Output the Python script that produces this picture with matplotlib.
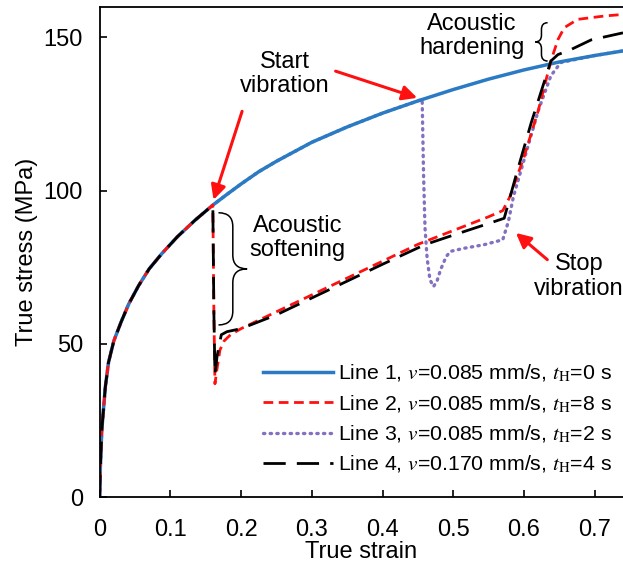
import matplotlib
matplotlib.use('Agg')
import matplotlib.pyplot as plt
from matplotlib.path import Path
from matplotlib.patches import PathPatch

plt.rcParams['font.family'] = ['Liberation Sans', 'DejaVu Sans']
plt.rcParams['mathtext.fontset'] = 'stix'

# Line 1: continuous loading
line1_strain = [0, 0.001, 0.003, 0.0055, 0.008, 0.0125, 0.02, 0.03, 0.041, 0.055, 0.07,
                0.088, 0.11, 0.135, 0.16, 0.18, 0.2, 0.225, 0.25, 0.3, 0.35, 0.4, 0.45,
                0.5, 0.55, 0.6, 0.65, 0.7, 0.74]
line1_stress = [0, 10, 22, 29, 36, 44, 51, 57, 63, 69, 74.5,
                79.5, 85, 90.4, 95.3, 98.8, 102.2, 106.2, 109.6, 115.8, 120.8, 125.3, 129.3,
                133, 136.4, 139.4, 142, 144.1, 145.6]

# Line 2: vibration from 0.16 to 0.57
line2_strain = line1_strain[:15] + [0.1615, 0.163, 0.166, 0.17, 0.176, 0.185, 0.2, 0.25, 0.3,
                                    0.35, 0.4, 0.45, 0.5, 0.55, 0.57, 0.58, 0.6, 0.62, 0.638,
                                    0.648, 0.657, 0.676, 0.714, 0.74]
line2_stress = line1_stress[:15] + [60, 37, 42, 48, 51, 53, 55, 60.5, 66,
                                    71.5, 77, 82.5, 87, 91.5, 93.5, 98, 111, 126, 142.3,
                                    149.3, 153.2, 155.9, 157, 157.5]

# Line 3: vibration from 0.456 to 0.57
line3_strain = line1_strain[:23] + [0.456, 0.458, 0.46, 0.463, 0.467, 0.472, 0.477, 0.482,
                                    0.49, 0.496, 0.515, 0.544, 0.57, 0.578, 0.585, 0.6, 0.62,
                                    0.638, 0.652, 0.7, 0.74]
line3_stress = line1_stress[:23] + [129.8, 105, 88, 78, 71, 68.7, 70.5, 74.2,
                                    78.5, 80.2, 81.2, 82.4, 84, 90, 98, 110, 126,
                                    137.5, 141.8, 144.1, 145.6]

# Line 4: vibration from 0.16 to 0.57, faster speed
line4_strain = line1_strain[:15] + [0.1615, 0.163, 0.166, 0.172, 0.18, 0.2, 0.25, 0.3, 0.35,
                                    0.4, 0.46, 0.5, 0.55, 0.572, 0.59, 0.61, 0.638, 0.648,
                                    0.666, 0.695, 0.74]
line4_stress = line1_stress[:15] + [60, 40, 46, 53, 54, 55, 59.5, 65, 70.5,
                                    76, 82.4, 85.5, 89.3, 91, 106, 122, 142.3, 144.4,
                                    146, 149.2, 151.5]

labels = [r'Line 1, $v$=0.085 mm/s, $t_{\mathrm{H}}$=0 s',
          r'Line 2, $v$=0.085 mm/s, $t_{\mathrm{H}}$=8 s',
          r'Line 3, $v$=0.085 mm/s, $t_{\mathrm{H}}$=2 s',
          r'Line 4, $v$=0.170 mm/s, $t_{\mathrm{H}}$=4 s']

fig = plt.figure(figsize=(6.23, 5.65), dpi=100)
ax = fig.add_axes([0.16, 0.12, 0.84, 0.868])

l3, = ax.plot(line3_strain, line3_stress, color='#8470c0', lw=2.4, ls=(0, (0.4, 1.6)),
              dash_capstyle='round', label=labels[2])
l1, = ax.plot(line1_strain, line1_stress, color='#2a7bc4', lw=2.5, label=labels[0])
l2, = ax.plot(line2_strain, line2_stress, color='#ff1010', lw=2.0, ls=(0, (3.5, 2)),
              label=labels[1])
l4, = ax.plot(line4_strain, line4_stress, color='black', lw=2.0, ls=(0, (8, 4)),
              label=labels[3])

ax.set_xlim(0, 0.74)
ax.set_ylim(0, 160)
ax.set_xticks([0, 0.1, 0.2, 0.3, 0.4, 0.5, 0.6, 0.7])
ax.set_xticklabels(['0', '0.1', '0.2', '0.3', '0.4', '0.5', '0.6', '0.7'])
ax.set_yticks([0, 50, 100, 150])
ax.tick_params(direction='in', length=5, width=1.2, labelsize=17, pad=12)
ax.tick_params(axis='x', pad=16)
ax.spines['right'].set_visible(False)
for s in ['left', 'bottom', 'top']:
    ax.spines[s].set_linewidth(1.3)
ax.set_xlabel('True strain', fontsize=17, labelpad=0)
ax.set_ylabel('True stress (MPa)', fontsize=17, labelpad=4)

leg = ax.legend(handles=[l1, l2, l3, l4], loc='upper left', bbox_to_anchor=(0.312, 0.274),
                frameon=False, fontsize=15.3, handlelength=3.3, handletextpad=0.22,
                labelspacing=0.42, borderpad=0, borderaxespad=0)


def brace(ax, x0, w, y0, y1, c):
    # curly brace: hooks at x0, tip at x0 + w
    xm = x0 + w / 2
    ym = (y0 + y1) / 2
    verts = [(x0, y1), (xm, y1), (xm, y1 - c),
             (xm, ym + c), (xm, ym), (x0 + w, ym),
             (xm, ym), (xm, ym - c),
             (xm, y0 + c), (xm, y0), (x0, y0)]
    codes = [Path.MOVETO, Path.CURVE3, Path.CURVE3,
             Path.LINETO, Path.CURVE3, Path.CURVE3,
             Path.CURVE3, Path.CURVE3,
             Path.LINETO, Path.CURVE3, Path.CURVE3]
    ax.add_patch(PathPatch(Path(verts, codes), fill=False, lw=1.1, color='black'))


brace(ax, 0.168, 0.0405, 56.2, 92.8, 4.5)
brace(ax, 0.6334, -0.0174, 142.3, 154.8, 2.2)

txt = dict(fontsize=17, ha='center', va='center', linespacing=1.12)
ax.text(0.262, 138, 'Start\nvibration', **txt)
ax.text(0.28, 84.5, 'Acoustic\nsoftening', **txt)
ax.text(0.526, 150.4, 'Acoustic\nhardening', **txt)
ax.text(0.678, 72, 'Stop\nvibration', **txt)

arrow = dict(arrowstyle='-|>', color='#ff1010', lw=2.2, mutation_scale=22,
             shrinkA=0, shrinkB=0)
ax.annotate('', xy=(0.161, 97), xytext=(0.2014, 125.9), arrowprops=arrow)
ax.annotate('', xy=(0.449, 130.3), xytext=(0.3336, 139), arrowprops=arrow)
ax.annotate('', xy=(0.5886, 86.2), xytext=(0.633, 77.5), arrowprops=arrow)

fig.savefig('out.png', dpi=100)
